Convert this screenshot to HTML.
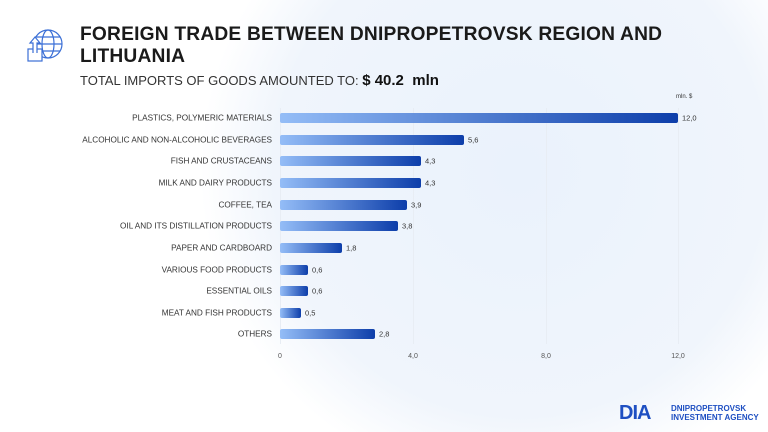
<!DOCTYPE html>
<html><head><meta charset="utf-8"><style>
html,body{margin:0;width:768px;height:432px;overflow:hidden}
body{background:radial-gradient(circle 320px at 520px 170px,#eaf2fc 0%,#f0f5fc 77%,#ffffff 100%);font-family:"Liberation Sans",sans-serif;position:relative}
.t{position:absolute;left:80px;font-weight:bold;font-size:19.2px;color:#1a1a1a;letter-spacing:0.2px}
.lab{position:absolute;right:496px;font-size:8.2px;color:#333;white-space:nowrap;transform:translateY(-50%)}
.bar{position:absolute;left:280px;height:10px;border-radius:2px;background:linear-gradient(90deg,#94bdf7,#0d3eaa);transform:translateY(-50%)}
.val{position:absolute;font-size:7.5px;color:#333;transform:translateY(-50%)}
.grid{position:absolute;top:108px;height:236px;width:1px;background:#e8edf4}
.tick{position:absolute;top:353px;font-size:7px;color:#555;transform:translateX(-50%)}
</style></head><body>
<svg style="position:absolute;left:26px;top:27px" width="40" height="40" viewBox="0 0 40 40" fill="none" stroke="#3b6fd6" stroke-width="1.2">
<circle cx="22" cy="17" r="14"/><ellipse cx="22" cy="17" rx="6" ry="14"/><line x1="8" y1="17" x2="36" y2="17"/><line x1="10" y1="10" x2="34" y2="10"/><line x1="10" y1="24" x2="34" y2="24"/>
<rect x="2" y="22" width="14" height="12" fill="#fff"/><path d="M7 26V16H4L9 10L14 16H11V26" fill="#fff"/></svg>
<div class="t" style="top:24px">FOREIGN TRADE BETWEEN DNIPROPETROVSK REGION AND</div>
<div class="t" style="top:46px">LITHUANIA</div>
<div style="position:absolute;left:80px;top:72px;font-size:13px;color:#333">TOTAL IMPORTS OF GOODS AMOUNTED TO: <b style="font-size:15px;color:#111">$ 40.2 &nbsp;mln</b></div>
<div style="position:absolute;left:676px;top:94px;font-size:6px;color:#333">mln. $</div>
<div class="grid" style="left:280px"></div><div class="grid" style="left:413px"></div><div class="grid" style="left:546px"></div><div class="grid" style="left:678px"></div>
<div class="tick" style="left:280px">0</div><div class="tick" style="left:413px">4,0</div><div class="tick" style="left:546px">8,0</div><div class="tick" style="left:678px">12,0</div>
<div class="lab" style="top:118px">PLASTICS, POLYMERIC MATERIALS</div><div class="bar" style="top:118px;width:398px"></div><div class="val" style="top:118px;left:682px">12,0</div>
<div class="lab" style="top:140px">ALCOHOLIC AND NON-ALCOHOLIC BEVERAGES</div><div class="bar" style="top:140px;width:184px"></div><div class="val" style="top:140px;left:468px">5,6</div>
<div class="lab" style="top:161px">FISH AND CRUSTACEANS</div><div class="bar" style="top:161px;width:141px"></div><div class="val" style="top:161px;left:425px">4,3</div>
<div class="lab" style="top:183px">MILK AND DAIRY PRODUCTS</div><div class="bar" style="top:183px;width:141px"></div><div class="val" style="top:183px;left:425px">4,3</div>
<div class="lab" style="top:205px">COFFEE, TEA</div><div class="bar" style="top:205px;width:127px"></div><div class="val" style="top:205px;left:411px">3,9</div>
<div class="lab" style="top:226px">OIL AND ITS DISTILLATION PRODUCTS</div><div class="bar" style="top:226px;width:118px"></div><div class="val" style="top:226px;left:402px">3,8</div>
<div class="lab" style="top:248px">PAPER AND CARDBOARD</div><div class="bar" style="top:248px;width:62px"></div><div class="val" style="top:248px;left:346px">1,8</div>
<div class="lab" style="top:270px">VARIOUS FOOD PRODUCTS</div><div class="bar" style="top:270px;width:28px"></div><div class="val" style="top:270px;left:312px">0,6</div>
<div class="lab" style="top:291px">ESSENTIAL OILS</div><div class="bar" style="top:291px;width:28px"></div><div class="val" style="top:291px;left:312px">0,6</div>
<div class="lab" style="top:313px">MEAT AND FISH PRODUCTS</div><div class="bar" style="top:313px;width:21px"></div><div class="val" style="top:313px;left:305px">0,5</div>
<div class="lab" style="top:334px">OTHERS</div><div class="bar" style="top:334px;width:95px"></div><div class="val" style="top:334px;left:379px">2,8</div>
<div style="position:absolute;left:619px;top:403px;font-weight:bold;font-size:20px;color:#1e4fc2;letter-spacing:-1px;line-height:20px">DIA</div>
<div style="position:absolute;left:671px;top:404px;font-size:8px;line-height:9px;color:#1e4fc2;font-weight:bold">DNIPROPETROVSK<br>INVESTMENT AGENCY</div>
</body></html>
